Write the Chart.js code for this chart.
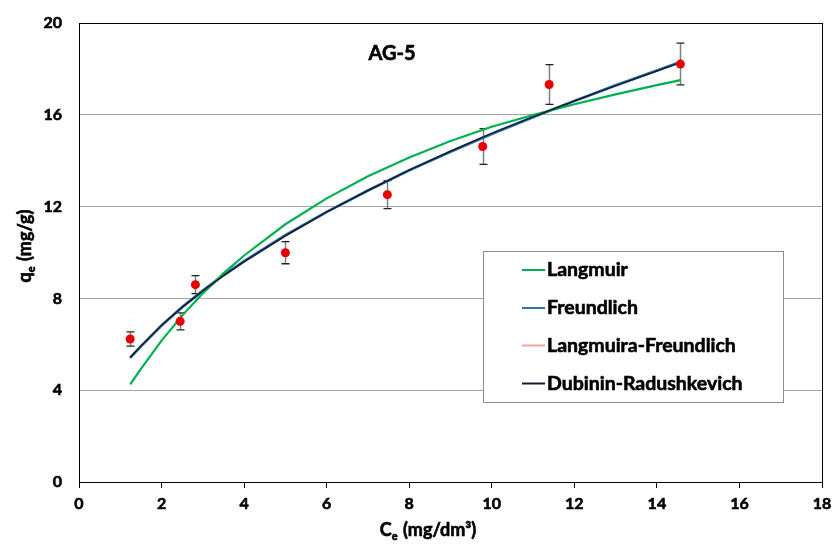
<!DOCTYPE html>
<html>
<head>
<meta charset="utf-8">
<script src="https://cdn.jsdelivr.net/npm/chart.js@4.4.1/dist/chart.umd.min.js"></script>
<style>
html,body{margin:0;padding:0;background:#fff;}
#wrap{width:833px;height:545px;position:relative;}
</style>
</head>
<body>
<div id="wrap"><canvas id="c" width="833" height="545"></canvas></div>
<script>
// ---- data ----
const chartTitle = "AG-5";
const xTitleMain = "C", xTitleSub = "e", xTitleRest = " (mg/dm³)";
const yTitleMain = "q", yTitleSub = "e", yTitleRest = " (mg/g)";

const ceData = [1.24, 2.45, 2.82, 5.0, 7.47, 9.78, 11.39, 14.57];
const qeData = [6.23, 7.0, 8.6, 9.99, 12.52, 14.62, 17.32, 18.21];
const qeErr  = [0.31, 0.37, 0.39, 0.48, 0.61, 0.78, 0.87, 0.91];

const curveCe = [1.24, 1.5, 2, 2.5, 3, 3.5, 4, 5, 6, 7, 8, 9, 10, 11, 12, 13, 14, 14.57];
const langmuir = [4.25, 4.93, 6.16, 7.25, 8.22, 9.09, 9.87, 11.23, 12.36, 13.32, 14.14, 14.86, 15.48, 15.99, 16.46, 16.89, 17.29, 17.51];
const freundlich = [5.41, 5.91, 6.82, 7.62, 8.34, 9.01, 9.62, 10.75, 11.77, 12.70, 13.58, 14.39, 15.17, 15.90, 16.60, 17.28, 17.93, 18.30];
const langFreund = [5.41, 5.92, 6.82, 7.62, 8.34, 9.01, 9.62, 10.75, 11.77, 12.71, 13.58, 14.39, 15.17, 15.90, 16.60, 17.28, 17.93, 18.30];
const dubinin = [5.43, 5.93, 6.83, 7.62, 8.33, 8.99, 9.60, 10.73, 11.76, 12.70, 13.59, 14.41, 15.19, 15.91, 16.60, 17.27, 17.91, 18.28];

const seriesNames = ["Langmuir", "Freundlich", "Langmuira-Freundlich", "Dubinin-Radushkevich"];
const xTicks = [0, 2, 4, 6, 8, 10, 12, 14, 16, 18];
const yTicks = [0, 4, 8, 12, 16, 20];

const FONT = "Lato, 'Open Sans', 'DejaVu Sans', sans-serif";

function pts(xs, ys){ return xs.map((x,i)=>({x:x, y:ys[i]})); }

const errorBarPlugin = {
  id: 'errorBars',
  beforeDatasetsDraw(chart){
    const ctx = chart.ctx, xs = chart.scales.x, ys = chart.scales.y;
    ctx.save();
    ceData.forEach((c,i)=>{
      const px = Math.round(xs.getPixelForValue(c)) + 0.5;
      const top = ys.getPixelForValue(qeData[i] + qeErr[i]);
      const bot = ys.getPixelForValue(qeData[i] - qeErr[i]);
      ctx.strokeStyle = '#7f7f7f';
      ctx.lineWidth = 1.5;
      ctx.beginPath(); ctx.moveTo(px, top); ctx.lineTo(px, bot); ctx.stroke();
      ctx.strokeStyle = '#222';
      ctx.lineWidth = 1.3;
      ctx.beginPath();
      ctx.moveTo(px-4, top); ctx.lineTo(px+4, top);
      ctx.moveTo(px-4, bot); ctx.lineTo(px+4, bot);
      ctx.stroke();
    });
    ctx.restore();
  }
};

function boldText(ctx, s, x, y){
  ctx.fillText(s, x, y);
  ctx.strokeText(s, x, y);
}

function drawSubTitle(ctx, main, sub, rest, size){
  const fMain = "bold " + size + "px " + FONT;
  const fSub = "bold " + Math.round(size*0.62) + "px " + FONT;
  ctx.font = fMain; const w1 = ctx.measureText(main).width; const w3 = ctx.measureText(rest).width;
  ctx.font = fSub; const w2 = ctx.measureText(sub).width + 1;
  const total = w1 + w2 + w3;
  let x = -total/2;
  ctx.textAlign = 'left'; ctx.textBaseline = 'alphabetic';
  ctx.font = fMain; boldText(ctx, main, x, size*0.36); x += w1;
  ctx.font = fSub; boldText(ctx, sub, x, size*0.36 + size*0.22); x += w2;
  ctx.font = fMain; boldText(ctx, rest, x, size*0.36);
}

const framePlugin = {
  id: 'frame',
  afterDraw(chart){
    const ctx = chart.ctx, a = chart.chartArea;
    ctx.save();
    ctx.strokeStyle = '#000';
    ctx.lineWidth = 1;
    ctx.strokeRect(Math.round(a.left)+0.5, Math.round(a.top)+0.5, Math.round(a.right-a.left), Math.round(a.bottom-a.top));
    ctx.fillStyle = '#000';
    ctx.strokeStyle = '#000';
    ctx.lineWidth = 0.6;
    // axis titles
    ctx.save(); ctx.translate(428, 530); drawSubTitle(ctx, xTitleMain, xTitleSub, xTitleRest, 18); ctx.restore();
    ctx.save(); ctx.translate(25, 246); ctx.rotate(-Math.PI/2); drawSubTitle(ctx, yTitleMain, yTitleSub, yTitleRest, 18); ctx.restore();
    // title
    ctx.font = "bold 20px " + FONT;
    ctx.textAlign = 'center';
    ctx.textBaseline = 'middle';
    boldText(ctx, chartTitle, 392, 54);
    // legend
    const bx = 483.5, by = 251.5, bw = 300, bh = 151;
    ctx.fillStyle = '#fff';
    ctx.fillRect(bx, by, bw, bh);
    ctx.strokeStyle = '#8c8c8c';
    ctx.lineWidth = 1;
    ctx.strokeRect(bx, by, bw, bh);
    const rows = [270, 308, 345.5, 383.5];
    ctx.font = "bold 19.5px " + FONT;
    ctx.textAlign = 'left';
    for (let i=0;i<4;i++){
      const ds = chart.data.datasets[i];
      ctx.strokeStyle = ds.borderColor;
      ctx.lineWidth = 2;
      ctx.beginPath(); ctx.moveTo(522, rows[i]); ctx.lineTo(545, rows[i]); ctx.stroke();
      ctx.fillStyle = '#000';
      ctx.strokeStyle = '#000';
      ctx.lineWidth = 0.6;
      boldText(ctx, ds.label, 547, rows[i]);
    }
    ctx.restore();
  }
};

new Chart(document.getElementById('c'), {
  type: 'scatter',
  data: {
    datasets: [
      {label: seriesNames[0], data: pts(curveCe, langmuir), showLine: true, borderColor: '#00b050', borderWidth: 2.2, pointRadius: 0, order: 2},
      {label: seriesNames[1], data: pts(curveCe, freundlich), showLine: true, borderColor: '#2e75b6', borderWidth: 2.8, pointRadius: 0, order: 3},
      {label: seriesNames[2], data: pts(curveCe, langFreund), showLine: true, borderColor: '#f4a3a3', borderWidth: 2, pointRadius: 0, order: 4},
      {label: seriesNames[3], data: pts(curveCe, dubinin), showLine: true, borderColor: '#141c2c', borderWidth: 1.5, pointRadius: 0, order: 1},
      {label: 'qe', data: pts(ceData, qeData), showLine: false, pointRadius: 4.5, pointBackgroundColor: '#e60000', pointBorderColor: '#e60000', pointBorderWidth: 0, order: 0}
    ]
  },
  options: {
    responsive: false,
    animation: false,
    layout: {padding: {top: 23, right: 11, left: 0, bottom: 0}},
    plugins: {legend: {display: false}, tooltip: {enabled: false}},
    scales: {
      x: {
        type: 'linear', min: 0, max: 18,
        afterBuildTicks(s){ s.ticks = xTicks.map(v=>({value:v})); },
        afterFit(s){ s.height = 63; s.paddingRight = 0; s.paddingLeft = 0; },
        grid: {drawOnChartArea: false, drawTicks: true, tickLength: 6, color: '#000', tickColor: '#000'},
        border: {display: true, color: '#000', width: 1},
        ticks: {padding: 6, color: '#000', textStrokeColor: '#000', textStrokeWidth: 0.6, font: {family: FONT, size: 16, weight: 'bold'}, maxRotation: 0},
        title: {display: false}
      },
      y: {
        type: 'linear', min: 0, max: 20,
        afterBuildTicks(s){ s.ticks = yTicks.map(v=>({value:v})); },
        afterFit(s){ s.width = 79; s.paddingTop = 0; s.paddingBottom = 0; },
        grid: {drawTicks: false, color: '#a6a6a6', lineWidth: 1},
        border: {display: true, color: '#000', width: 1},
        ticks: {padding: 17, color: '#000', textStrokeColor: '#000', textStrokeWidth: 0.6, font: {family: FONT, size: 16, weight: 'bold'}},
        title: {display: false}
      }
    }
  },
  plugins: [errorBarPlugin, framePlugin]
});
</script>
</body>
</html>
